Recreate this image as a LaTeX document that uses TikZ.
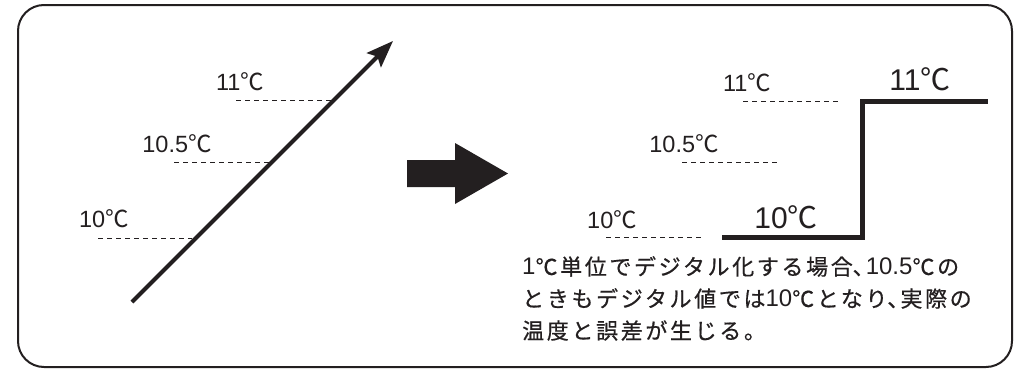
\documentclass[tikz,border=0pt]{standalone}
\usepackage{fontspec}
\setmainfont{Liberation Sans}
\newfontfamily\jp{Noto Sans CJK JP}
\newfontfamily\jpsp[LetterSpace=12,FakeBold=0.6]{Noto Sans CJK JP}
\newfontfamily\jpp[RawFeature=+palt,FakeBold=0.6]{Noto Sans CJK JP}
\usetikzlibrary{arrows.meta}
\definecolor{ink}{RGB}{35,31,32}
\newcommand\dgc{{\jp ℃}}
\newcommand\dgt[1]{{\rmfamily\fontsize{24}{32}\selectfont #1}}
\newcommand\tcm{{\jpp 、}\hspace{2pt}}
\begin{document}
\begin{tikzpicture}[x=1pt,y=-1pt,
  lbl/.style={inner sep=0pt,font=\fontsize{23.5}{26}\selectfont,text=ink},
  biglbl/.style={inner sep=0pt,font=\fontsize{30}{34}\selectfont,text=ink},
  guide/.style={draw=ink,line width=0.9pt,dash pattern=on 5pt off 4pt},
  ramp/.style={draw=ink,line width=4pt,-{Stealth[length=27pt,width=20pt,inset=5pt]}},
  stair/.style={draw=ink,line width=5pt},
  frame/.style={draw=ink,line width=2pt,rounded corners=26pt}]
\useasboundingbox (0,0) rectangle (1015,370);
\draw[frame] (18,5) rectangle (1012,367);
% left panel
\coordinate (rs) at (132,302);
\coordinate (re) at (393,41);
\draw[ramp] (rs) -- (re);
\node[lbl] (l11) at (240,82) {11\dgc};
\node[lbl] (l105) at (177,144) {10.5\dgc};
\node[lbl] (l10) at (104,219) {10\dgc};
\coordinate (d11a) at (236,100); \coordinate (d11b) at (331,100);
\coordinate (d105a) at (174,162); \coordinate (d105b) at (270,162);
\coordinate (d10a) at (98,238); \coordinate (d10b) at (192,238);
\draw[guide] (d11a) -- (d11b);
\draw[guide] (d105a) -- (d105b);
\draw[guide] (d10a) -- (d10b);
% block arrow
\fill[ink] (407,160) -- (455,160) -- (455,143) -- (508,173.5) -- (455,204) -- (455,187) -- (407,187) -- cycle;
% right panel
\node[lbl] (r11) at (747,83) {11\dgc};
\node[lbl] (r105) at (684,144) {10.5\dgc};
\node[lbl] (r10) at (612,220) {10\dgc};
\coordinate (e11a) at (743,101); \coordinate (e11b) at (841,101);
\coordinate (e105a) at (682,162); \coordinate (e105b) at (779,162);
\coordinate (e10a) at (606,237); \coordinate (e10b) at (703,237);
\draw[guide] (e11a) -- (e11b);
\draw[guide] (e105a) -- (e105b);
\draw[guide] (e10a) -- (e10b);
\coordinate (s1) at (722,237); \coordinate (s2) at (862,237);
\coordinate (s3) at (862,101); \coordinate (s4) at (988,101);
\draw[stair] (s1) -- (s2) -- (s3) -- (s4);
\node[biglbl] (b10) at (786,217) {10\dgc};
\node[biglbl] (b11) at (920,79) {11\dgc};
\node[inner sep=0pt,anchor=north west,align=left,text=ink,
  font=\jpsp\fontsize{22}{32}\selectfont] (note) at (522,256)
  {\dgt{1}℃単位でデジタル化する場合\tcm\dgt{10.5}℃の\\ときもデジタル値では\dgt{10}℃となり\tcm 実際の\\温度と誤差が生じる。};
\end{tikzpicture}
\end{document}
